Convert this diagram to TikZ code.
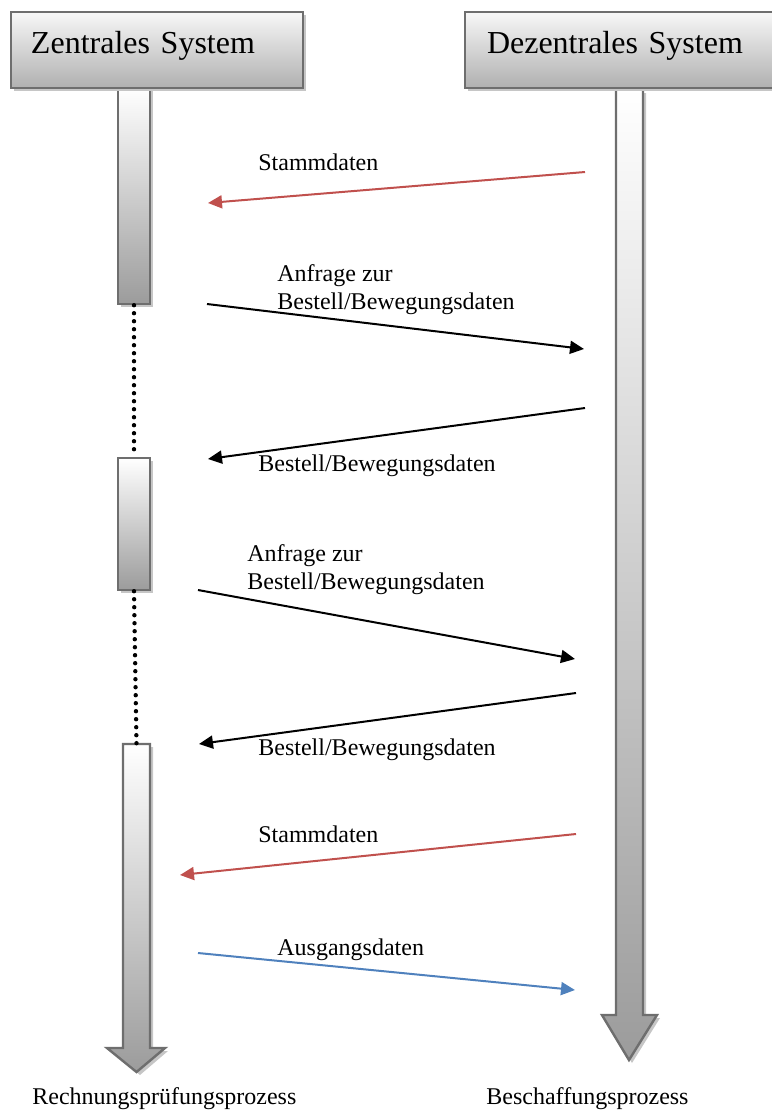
\documentclass[tikz,border=0pt]{standalone}
\usepackage{fontspec}
\setmainfont{Liberation Serif}
\usetikzlibrary{positioning}
\usetikzlibrary{shadows}
\usetikzlibrary{arrows.meta}

\definecolor{msgred}{HTML}{C0504D}
\definecolor{msgblue}{HTML}{4F81BD}
\definecolor{boxline}{HTML}{6E6E6E}

\begin{document}
\begin{tikzpicture}[x=0.5pt, y=-0.5pt,
	header/.style={draw=boxline, line width=1.2pt, rectangle, minimum height=38pt, top color=gray!6, bottom color=gray!62,
		general shadow={fill=gray!45, shadow xshift=1.5pt, shadow yshift=-1.5pt}, font=\fontsize{16}{18}\selectfont, align=left, text depth=8pt},
	lifebar/.style={draw=boxline, line width=1.2pt, rectangle, minimum width=16pt, top color=white, bottom color=gray!78,
		general shadow={fill=gray!45, shadow xshift=1.5pt, shadow yshift=-1.5pt}},
	lifearrow/.style={draw=boxline, line width=1.2pt, top color=white, bottom color=gray!78},
	arrowshadow/.style={fill=gray!45},
	lifedots/.style={line width=2.2pt, dash pattern=on 0pt off 4pt, line cap=round},
	msg/.style={-{Triangle[length=7pt,width=6.5pt]}, line width=1pt},
	lbl/.style={anchor=west, inner sep=0pt, align=left, font=\fontsize{12}{14}\selectfont}]
	\useasboundingbox (0,0) rectangle (772,1110);

	% long lifelines
	\fill[arrowshadow] (626,93) -- (626,1018) -- (605,1018) -- (632,1063) -- (660,1018) -- (646,1018) -- (646,93) -- cycle;
	\path[lifearrow] (616,88) -- (616,1015) -- (602,1015) -- (629,1060) -- (657,1015) -- (643,1015) -- (643,88) -- cycle;
	\coordinate (ds) at (629,88);

	\fill[arrowshadow] (126,747) -- (126,1051) -- (110,1051) -- (140,1075) -- (168,1051) -- (153,1051) -- (153,747) -- cycle;
	\path[lifearrow] (123,744) -- (123,1048) -- (107,1048) -- (136.5,1072) -- (165,1048) -- (150,1048) -- (150,744) -- cycle;
	\coordinate (zs3) at (136.5,744);

	% activation bars
	\node[lifebar, minimum height=108pt] (zs1) at (134,196) {};
	\node[lifebar, minimum height=66pt] (zs2) at (134,524) {};
	\draw[lifedots] (zs1.south) -- (zs2.north);
	\draw[lifedots] (zs2.south) -- (zs3);

	% headers
	\node[header, minimum width=146pt, text width=126pt, inner xsep=10pt] (zentral) at (157,50) {Zentrales System};
	\node[header, minimum width=156pt, text width=134pt, inner xsep=11pt] (dezentral) at (621,50) {Dezentrales System};

	% messages
	\coordinate (m1a) at (585,172); \coordinate (m1b) at (208,203);
	\coordinate (m2a) at (207,304); \coordinate (m2b) at (584,349);
	\coordinate (m3a) at (585,408); \coordinate (m3b) at (208,459);
	\coordinate (m4a) at (198,590); \coordinate (m4b) at (575,659);
	\coordinate (m5a) at (576,693); \coordinate (m5b) at (199,744);
	\coordinate (m6a) at (576,834); \coordinate (m6b) at (180,875);
	\coordinate (m7a) at (198,953); \coordinate (m7b) at (575,990);

	\draw[msg, msgred] (m1a) -- (m1b);
	\draw[msg] (m2a) -- (m2b);
	\draw[msg] (m3a) -- (m3b);
	\draw[msg] (m4a) -- (m4b);
	\draw[msg] (m5a) -- (m5b);
	\draw[msg, msgred] (m6a) -- (m6b);
	\draw[msg, msgblue] (m7a) -- (m7b);

	\node[lbl] (l1) at (258,162) {Stammdaten};
	\node[lbl] (l2) at (277,290) {Anfrage zur\\Bestell/Bewegungsdaten};
	\node[lbl] (l3) at (258,466) {Bestell/Bewegungsdaten};
	\node[lbl] (l4) at (247,570) {Anfrage zur\\Bestell/Bewegungsdaten};
	\node[lbl] (l5) at (258,750) {Bestell/Bewegungsdaten};
	\node[lbl] (l6) at (258,834) {Stammdaten};
	\node[lbl] (l7) at (277,950) {Ausgangsdaten};

	% process names
	\node[lbl] (p1) at (32,1099) {Rechnungsprüfungsprozess};
	\node[lbl] (p2) at (486,1099) {Beschaffungsprozess};
\end{tikzpicture}
\end{document}
